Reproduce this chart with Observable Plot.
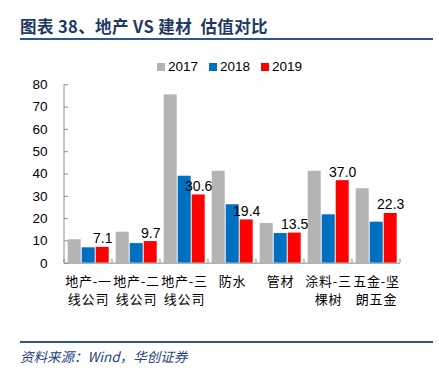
<!DOCTYPE html>
<html><head><meta charset="utf-8">
<script src="https://cdn.jsdelivr.net/npm/d3@7"></script>
<script src="https://cdn.jsdelivr.net/npm/@observablehq/plot@0.6"></script>
<style>
body{margin:0;width:439px;height:377px;position:relative;background:#fff;overflow:hidden;font-family:"Liberation Sans",Arial,sans-serif}
#title{position:absolute;left:20px;top:18px;font-family:"Noto Sans CJK SC";font-weight:700;font-size:16.5px;line-height:17px;color:#1F3864;white-space:pre;letter-spacing:0.4px}
.hr{position:absolute;left:20px;width:413px;height:2px;background:#2B549C}
#legend{position:absolute;left:157px;top:59px;display:flex;align-items:center;font-size:13.5px;line-height:16px;color:#000}
#legend .item{display:flex;align-items:center;margin-right:11px}
#legend .sw{width:8px;height:8px;margin-right:3px}
#footer{position:absolute;left:20px;top:349px;font-family:"Noto Sans CJK SC";font-style:italic;font-size:13.5px;line-height:14px;color:#25447F;white-space:nowrap}
#chart{position:absolute;left:0;top:0}
#chart g[aria-label="fx-axis tick label"] text{letter-spacing:0.8px}
</style>
</head><body>
<div id="title">图表 38、地产 VS 建材  估值对比</div>
<div class="hr" style="top:38px"></div>
<div id="chart"></div>
<div id="legend"></div>
<div class="hr" style="top:341px"></div>
<div id="footer">资料来源：Wind，华创证券</div>
<script>
const categories = ["地产-一线公司","地产-二线公司","地产-三线公司","防水","管材","涂料-三棵树","五金-坚朗五金"];
const tickLabels = ["地产-一\n线公司","地产-二\n线公司","地产-三\n线公司","防水","管材","涂料-三\n棵树","五金-坚\n朗五金"];
const years = ["2017","2018","2019"];
const v2017 = [10.5,13.9,75.5,41.2,17.8,41.2,33.4];
const v2018 = [6.9,8.8,39.0,26.2,13.3,21.7,18.4];
const v2019 = [7.1,9.7,30.6,19.4,13.5,37.0,22.3];
const yTicks = [0,10,20,30,40,50,60,70,80];
const colors = ["#B4B4B4","#0070C0","#FF0000"];

const series = [v2017, v2018, v2019];
const data = categories.flatMap((c,i)=>years.map((y,j)=>({cat:c,year:y,value:series[j][i]})));

const plot = Plot.plot({
  width:439, height:377,
  marginLeft:63.3, marginRight:38.5, marginTop:84.3, marginBottom:114.3,
  style:{fontFamily:"Liberation Sans, Arial, sans-serif", fontSize:"13.5px", color:"#000", background:"transparent", overflow:"visible"},
  fx:{domain:categories, padding:0, label:null, axis:null},
  x:{domain:years, paddingInner:0.07, paddingOuter:0.18, axis:null},
  y:{domain:[0,80], label:null, axis:null},
  color:{domain:years, range:colors},
  marks:[
    Plot.barY(data,{fx:"cat", x:"year", y:"value", fill:"year"}),
    Plot.ruleY([0],{stroke:"#8C8C8C"}),
    Plot.axisY({ticks:yTicks, tickSize:-4, tickPadding:21, stroke:"#8C8C8C", fill:"#000", fontSize:13.5, label:null}),
    Plot.text(data.filter(d=>d.year==="2019"),{fx:"cat", x:"year", y:"value", text:d=>d.value.toFixed(1), dy:-4, lineAnchor:"bottom", fontSize:14, fill:"#000"}),
    Plot.axisFx({anchor:"bottom", tickSize:0, tickPadding:10, tickFormat:d=>tickLabels[categories.indexOf(d)], fontFamily:"Noto Sans CJK SC", fontSize:13, lineHeight:1.385, fill:"#000", label:null})
  ]
});
document.getElementById("chart").appendChild(plot);

// axis lines and category boundary ticks derived from the plot's scales
const fx = plot.scale("fx"), ys = plot.scale("y");
const svg = d3.select(plot);
const y0 = ys.apply(0), yTop = ys.apply(80);
const xLeft = fx.apply(categories[0]);
svg.append("line").attr("x1",xLeft).attr("x2",xLeft).attr("y1",y0).attr("y2",yTop).attr("stroke","#8C8C8C");
const bounds = categories.map(c=>fx.apply(c)).concat([fx.apply(categories[categories.length-1])+fx.bandwidth]);
bounds.forEach(b=>svg.append("line").attr("x1",b).attr("x2",b).attr("y1",y0).attr("y2",y0-4).attr("stroke","#8C8C8C"));

// legend
const lg = d3.select("#legend");
years.forEach((y,i)=>{
  const it = lg.append("div").attr("class","item");
  it.append("div").attr("class","sw").style("background",colors[i]);
  it.append("span").text(y);
});
</script>
</body></html>
